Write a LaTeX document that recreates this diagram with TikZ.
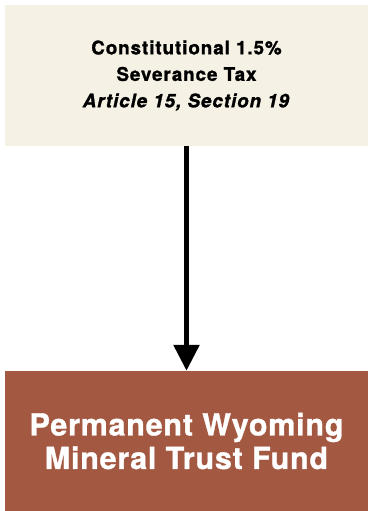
\documentclass[tikz,border=0pt]{standalone}
\usepackage{fontspec}
\setmainfont{TeX Gyre Heros}
\newfontfamily\cajaletra[LetterSpace=5,BoldFeatures={FakeBold=1.2},BoldItalicFeatures={FakeBold=1.2}]{TeX Gyre Heros}
\newfontfamily\fondoletra[LetterSpace=2.5,BoldFeatures={FakeBold=1}]{TeX Gyre Heros}
\usepackage{xcolor}
\definecolor{papel}{RGB}{245,241,228}
\definecolor{ladrillo}{RGB}{163,88,65}
\usepackage{tikz}
\usetikzlibrary{arrows.meta,positioning}

\tikzset{
  caja/.style={draw=none,minimum width=363pt,inner sep=0pt,align=center},
  fuente/.style={caja,fill=papel,minimum height=141pt,text=black,
    font=\cajaletra\bfseries\fontsize{18.8}{26.5}\selectfont},
  fondo/.style={caja,fill=ladrillo,minimum height=140pt,text=white,
    font=\fondoletra\bfseries\fontsize{30.5}{33.5}\selectfont},
  flujo/.style={line width=5.5pt,-{Triangle[width=25pt,length=26pt]}}
}

\begin{document}
\begin{tikzpicture}[x=1pt,y=1pt]
    \useasboundingbox (0,0) rectangle (370,-511);
    \node[fuente] (tax) at (186.5,-75.5)
      {Constitutional 1.5\%\\Severance Tax\\\textit{Article 15, Section 19}};
    \node[fondo] (fund) at (186.5,-441)
      {Permanent Wyoming\\Mineral Trust Fund};
    \draw[flujo] (tax.south) -- (fund.north);
\end{tikzpicture}
\end{document}
